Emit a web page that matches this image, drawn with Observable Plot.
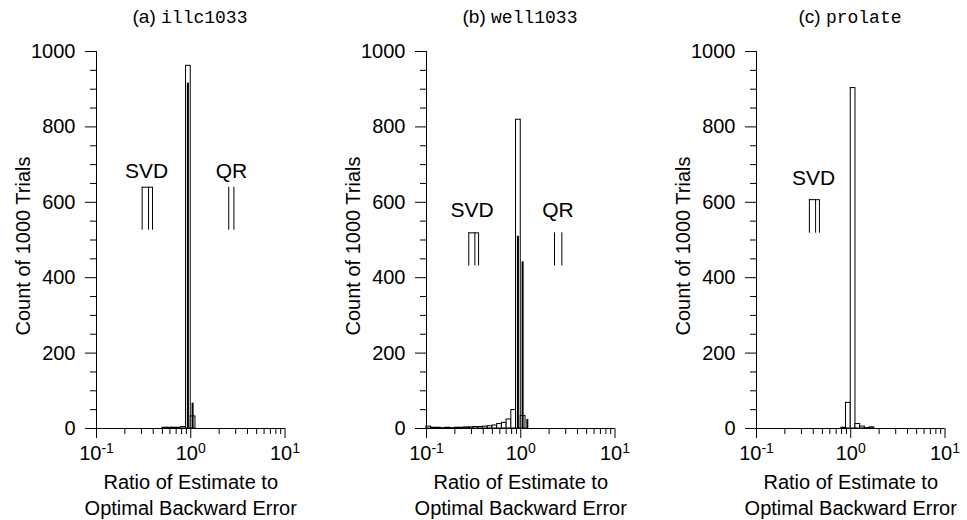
<!DOCTYPE html>
<html><head><meta charset="utf-8">
<script src="https://cdn.jsdelivr.net/npm/d3@7"></script>
<script src="https://cdn.jsdelivr.net/npm/@observablehq/plot@0.6"></script>
<style>
body{margin:0;background:#fff;font-family:"Liberation Sans",Arial,sans-serif;}
#row{display:flex;width:967px;height:520px;overflow:hidden;}
.title{height:35px;line-height:34px;font-size:19px;white-space:nowrap;text-align:center;margin-left:96px;width:188px;color:#000;}
.title span.m{font-family:"Liberation Mono",monospace;font-size:18px;}
</style></head><body><div id="row"></div>
<script>
// panel titles
const panelTags = ["(a)", "(b)", "(c)"];
const matrixNames = ["illc1033", "well1033", "prolate"];

// SVD histograms: log10 of bin lower edge, counts (bin width 0.05 in log10)
const svdLoA = [-0.30, -0.25, -0.20, -0.15, -0.10, -0.05, 0.00];
const svdCountA = [2, 2, 2, 2, 4, 962, 32];
const svdLoB = [-1.00, -0.95, -0.90, -0.85, -0.80, -0.75, -0.70, -0.65, -0.60, -0.55, -0.50, -0.45, -0.40, -0.35, -0.30, -0.25, -0.20, -0.15, -0.10, -0.05, 0.00];
const svdCountB = [5, 2, 2, 1, 2, 1, 2, 2, 3, 3, 4, 4, 5, 6, 8, 12, 15, 24, 49, 819, 33];
const svdLoC = [-0.10, -0.05, 0.00, 0.05, 0.10, 0.15, 0.20];
const svdCountC = [2, 68, 903, 12, 5, 1, 3];

// QR histograms (same bins, drawn as narrow bars)
const qrLoA = [-0.05, 0.00];
const qrCountA = [916, 67];
const qrLoB = [-0.05, 0.00, 0.05];
const qrCountB = [510, 442, 24];
const qrLoC = [];
const qrCountC = [];

// key annotations (label position, symbol extent) in data units
const keyNames = [["SVD", "QR"], ["SVD", "QR"], ["SVD"]];
const keyLabelX = [[0.339, 2.70], [0.305, 2.48], [0.404]];
const keyLabelY = [[682, 682], [578, 578], [665]];
const keySymX1 = [[0.305, 2.53], [0.281, 2.28], [0.364]];
const keySymX2 = [[0.393, 2.87], [0.357, 2.73], [0.465]];
const keySymTop = [[640, 640], [519, 519], [607]];
const keySymBottom = [[526, 526], [431, 431], [518]];

const yMajor = [0, 200, 400, 600, 800, 1000];
const yMinor = [50, 100, 150, 250, 300, 350, 450, 500, 550, 650, 700, 750, 850, 900, 950];
const xMajor = [0.1, 1, 10];
const xMinor = [0.2, 0.3, 0.4, 0.5, 0.6, 0.7, 0.8, 0.9, 2, 3, 4, 5, 6, 7, 8, 9];
const yLabel = "Count of 1000 Trials";
const xLabel = "Ratio of Estimate to\nOptimal Backward Error";
const binW = 0.05;

const svdLo = [svdLoA, svdLoB, svdLoC], svdCount = [svdCountA, svdCountB, svdCountC];
const qrLo = [qrLoA, qrLoB, qrLoC], qrCount = [qrCountA, qrCountB, qrCountC];
const widths = [330, 330, 307];
const svgNS = "http://www.w3.org/2000/svg";

const row = document.getElementById("row");
for (let k = 0; k < 3; k++) {
  const svd = svdLo[k].map((lo, i) => ({lo, n: svdCount[k][i]}));
  const qr = qrLo[k].map((lo, i) => ({lo, n: qrCount[k][i]}));
  const keys = keyNames[k].map((name, i) => ({
    name, lx: keyLabelX[k][i], ly: keyLabelY[k][i],
    x1: keySymX1[k][i], x2: keySymX2[k][i], top: keySymTop[k][i], bot: keySymBottom[k][i]
  }));
  const svdKeys = keys.filter(d => d.name === "SVD");
  const qrKeys = keys.filter(d => d.name === "QR");

  const chart = Plot.plot({
    width: widths[k],
    height: 485,
    marginLeft: 96,
    marginRight: widths[k] - 96 - 188.5,
    marginTop: 16,
    marginBottom: 92,
    style: {fontFamily: "'Liberation Sans', Arial, sans-serif", fontSize: "19px", color: "#000", background: "#fff", overflow: "visible"},
    x: {type: "log", domain: [0.1, 10]},
    y: {domain: [0, 1000]},
    marks: [
      Plot.rect(svd, {x1: d => 10 ** d.lo, x2: d => 10 ** (d.lo + binW), y1: 0, y2: "n", fill: "white", stroke: "black", strokeWidth: 1}),
      Plot.rect(qr, {x1: d => 10 ** d.lo, x2: d => 10 ** (d.lo + binW), y1: 0, y2: "n", fill: "black", insetLeft: 1.35, insetRight: 1.35}),
      Plot.ruleY([0], {x1: 0.1, x2: 10, stroke: "black"}),
      Plot.ruleX([0.1], {y1: 0, y2: 1000, stroke: "black"}),
      Plot.axisY({ticks: yMajor, tickSize: 11, tickPadding: 10, fontSize: 20, label: null, stroke: "black", tickFormat: d => String(d)}),
      Plot.axisY({ticks: yMinor, tickSize: 6, tickFormat: () => "", label: null, stroke: "black"}),
      Plot.axisX({ticks: xMajor, tickSize: 10, tickPadding: 7, fontSize: 20, label: null, stroke: "black",
        tickFormat: d => "10^" + Math.round(Math.log10(d))}),
      Plot.axisX({ticks: xMinor, tickSize: 6, tickFormat: () => "", label: null, stroke: "black"}),
      // key symbols
      Plot.ruleX(svdKeys, {x: "x1", y1: "bot", y2: "top", stroke: "black"}),
      Plot.ruleX(svdKeys, {x: "x2", y1: "bot", y2: "top", stroke: "black"}),
      Plot.ruleX(svdKeys, {x: d => Math.sqrt(d.x1 * d.x2) * 1.03, y1: "bot", y2: "top", stroke: "black"}),
      Plot.ruleY(svdKeys, {y: "top", x1: "x1", x2: "x2", stroke: "black"}),
      Plot.ruleX(qrKeys, {x: "x1", y1: "bot", y2: "top", stroke: "black"}),
      Plot.ruleX(qrKeys, {x: "x2", y1: "bot", y2: "top", stroke: "black"}),
      Plot.text(keys, {x: "lx", y: "ly", text: "name", fontSize: 21, fill: "black"}),
      // axis titles
      Plot.text([yLabel], {frameAnchor: "left", textAnchor: "middle", rotate: -90, dx: -73, dy: 6, fontSize: 20, fill: "black"}),
      Plot.text([xLabel], {frameAnchor: "bottom", textAnchor: "middle", lineAnchor: "top", dy: 42, fontSize: 20, lineHeight: 1.3, fill: "black"})
    ]
  });

  // superscript exponents on the x tick labels
  chart.querySelectorAll('[aria-label="x-axis tick label"] text').forEach(t => {
    const parts = t.textContent.split("^");
    if (parts.length === 2) {
      t.textContent = parts[0];
      const ts = document.createElementNS(svgNS, "tspan");
      ts.setAttribute("dy", "-0.5em");
      ts.setAttribute("font-size", "14");
      ts.textContent = parts[1];
      t.appendChild(ts);
    }
  });

  const panel = document.createElement("div");
  panel.style.width = widths[k] + "px";
  const title = document.createElement("div");
  title.className = "title";
  title.innerHTML = panelTags[k] + " <span class='m'>" + matrixNames[k] + "</span>";
  panel.appendChild(title);
  panel.appendChild(chart);
  row.appendChild(panel);
}
</script>
</body></html>
